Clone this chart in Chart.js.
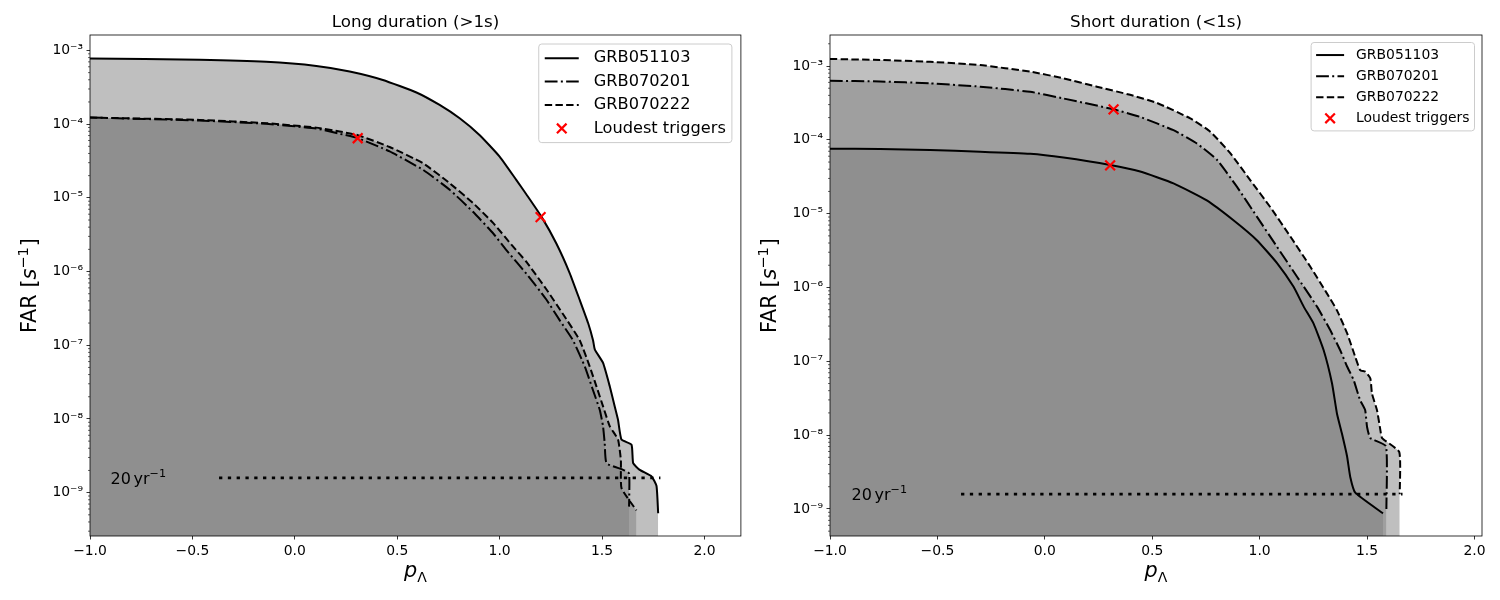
<!DOCTYPE html>
<html>
<head>
<meta charset="utf-8">
<script src="https://cdn.jsdelivr.net/npm/chart.js@4.4.1/dist/chart.umd.min.js"></script>
<style>
  body { margin: 0; background: #fff; }
  #wrap { position: relative; width: 1500px; height: 600px; }
  canvas { position: absolute; top: 0; }
</style>
</head>
<body>
<div id="wrap">
  <canvas id="longChart" width="750" height="600" style="left:0"></canvas>
  <canvas id="shortChart" width="750" height="600" style="left:750px"></canvas>
</div>
<script>
// tick values / labels
const xTicks = [-1.0, -0.5, 0.0, 0.5, 1.0, 1.5, 2.0];
const xTickLabels = ['−1.0', '−0.5', '0.0', '0.5', '1.0', '1.5', '2.0'];
const yTicks = [1e-3, 1e-4, 1e-5, 1e-6, 1e-7, 1e-8, 1e-9];
const yTickLabels = ['10⁻³', '10⁻⁴', '10⁻⁵', '10⁻⁶', '10⁻⁷', '10⁻⁸', '10⁻⁹'];

const grbNames = ['GRB051103', 'GRB070201', 'GRB070222'];
const farThreshold = 1.585e-9; // 1 / (20 yr)

// Long duration (>1s)
const longP051103   = [-1.0, -0.465, -0.139, 0.105, 0.268, 0.43, 0.594, 0.707, 0.805, 0.903, 1.0, 1.082, 1.131, 1.204, 1.277, 1.342, 1.391, 1.432, 1.456, 1.465, 1.505, 1.538, 1.562, 1.578, 1.595, 1.644, 1.652, 1.684, 1.742, 1.766, 1.774];
const longFar051103 = [7.80e-4, 7.45e-4, 7.00e-4, 6.17e-4, 5.19e-4, 3.98e-4, 2.69e-4, 1.82e-4, 1.20e-4, 7.08e-5, 3.63e-5, 1.74e-5, 1.11e-5, 5.56e-6, 2.40e-6, 9.55e-7, 4.12e-7, 2.00e-7, 1.17e-7, 8.71e-8, 5.75e-8, 2.75e-8, 1.48e-8, 9.77e-9, 5.25e-9, 4.47e-9, 2.51e-9, 2.04e-9, 1.66e-9, 1.23e-9, 5.25e-10];
const longP070201   = [-1.0, -0.465, -0.139, 0.105, 0.219, 0.308, 0.463, 0.626, 0.756, 0.870, 0.968, 1.033, 1.131, 1.228, 1.293, 1.358, 1.416, 1.456, 1.489, 1.505, 1.513, 1.522, 1.603, 1.632, 1.632];
const longFar070201 = [1.23e-4, 1.12e-4, 1.01e-4, 8.71e-5, 7.41e-5, 6.46e-5, 4.27e-5, 2.40e-5, 1.29e-5, 6.46e-6, 3.31e-6, 1.95e-6, 9.33e-7, 4.17e-7, 2.19e-7, 1.17e-7, 5.13e-8, 2.45e-8, 1.32e-8, 7.94e-9, 4.68e-9, 2.51e-9, 2.04e-9, 1.82e-9, 6.46e-10];
const longP070222   = [-1.0, -0.465, -0.139, 0.105, 0.219, 0.308, 0.463, 0.626, 0.756, 0.870, 0.968, 1.065, 1.131, 1.228, 1.31, 1.391, 1.44, 1.473, 1.505, 1.538, 1.578, 1.592, 1.595, 1.668];
const longFar070222 = [1.23e-4, 1.14e-4, 1.03e-4, 8.97e-5, 7.94e-5, 7.08e-5, 4.90e-5, 2.95e-5, 1.58e-5, 8.51e-6, 4.57e-6, 2.19e-6, 1.35e-6, 5.75e-7, 2.63e-7, 1.17e-7, 5.13e-8, 2.75e-8, 1.48e-8, 7.94e-9, 5.25e-9, 2.75e-9, 1.15e-9, 5.75e-10];
const longLoudestP   = [0.307, 1.200];
const longLoudestFar = [6.44e-5, 5.46e-6];
const longThresholdP = [-0.37, 1.785];

// Short duration (<1s)
const shortP051103   = [-1.0, -0.767, -0.534, -0.301, -0.068, 0.087, 0.304, 0.444, 0.599, 0.754, 0.878, 0.987, 1.081, 1.158, 1.205, 1.251, 1.298, 1.337, 1.360, 1.383, 1.407, 1.422, 1.445, 1.574];
const shortFar051103 = [7.59e-5, 7.50e-5, 7.28e-5, 6.92e-5, 6.46e-5, 5.75e-5, 4.57e-5, 3.72e-5, 2.57e-5, 1.51e-5, 8.13e-6, 4.37e-6, 2.14e-6, 1.02e-6, 5.50e-7, 3.24e-7, 1.41e-7, 5.01e-8, 1.95e-8, 1.05e-8, 5.13e-9, 2.69e-9, 1.66e-9, 8.71e-10];
const shortP070201   = [-1.0, -0.767, -0.534, -0.301, -0.068, 0.087, 0.320, 0.444, 0.599, 0.708, 0.801, 0.894, 0.987, 1.081, 1.174, 1.267, 1.329, 1.375, 1.407, 1.437, 1.468, 1.491, 1.500, 1.515, 1.588, 1.590];
const shortFar070201 = [6.31e-4, 6.17e-4, 5.82e-4, 5.25e-4, 4.47e-4, 3.63e-4, 2.59e-4, 2.04e-4, 1.35e-4, 8.91e-5, 5.37e-5, 2.32e-5, 9.12e-6, 3.55e-6, 1.40e-6, 5.50e-7, 2.63e-7, 1.41e-7, 8.51e-8, 5.62e-8, 2.95e-8, 2.19e-8, 1.29e-8, 9.12e-9, 7.08e-9, 1.0e-9];
const shortP070222   = [-1.0, -0.767, -0.534, -0.301, -0.068, 0.087, 0.242, 0.397, 0.522, 0.677, 0.770, 0.863, 0.956, 1.049, 1.143, 1.236, 1.313, 1.360, 1.407, 1.445, 1.468, 1.491, 1.515, 1.523, 1.546, 1.562, 1.570, 1.650, 1.652];
const shortFar070222 = [1.245e-3, 1.205e-3, 1.14e-3, 1.03e-3, 8.38e-4, 6.81e-4, 5.25e-4, 4.07e-4, 3.16e-4, 1.95e-4, 1.29e-4, 6.61e-5, 2.85e-5, 1.23e-5, 4.90e-6, 1.91e-6, 8.32e-7, 4.90e-7, 2.40e-7, 1.15e-7, 7.59e-8, 7.24e-8, 5.89e-8, 3.63e-8, 2.19e-8, 1.17e-8, 9.12e-9, 5.89e-9, 1.58e-9];
const shortLoudestP   = [0.304, 0.320];
const shortLoudestFar = [4.51e-5, 2.59e-4];
const shortThresholdP = [-0.39, 1.665];

const FONT = '"DejaVu Sans"';
Chart.defaults.font.family = FONT;
Chart.defaults.color = '#000';

const dashes = [[], [12.8, 3.3, 2, 3.3], [7.4, 3.3]];

function pts(xs, ys) {
  return xs.map((x, i) => ({x: x, y: ys[i]}));
}

function curve(label, xs, ys, dash) {
  return {
    label: label,
    data: pts(xs, ys),
    showLine: true,
    borderColor: '#000',
    borderWidth: 2,
    borderDash: dash,
    borderJoinStyle: 'round',
    pointRadius: 0,
    tension: 0.15,
    fill: 'start',
    backgroundColor: 'rgba(128,128,128,0.5)'
  };
}

function roundRect(ctx, x, y, w, h, r) {
  ctx.beginPath();
  ctx.moveTo(x + r, y);
  ctx.arcTo(x + w, y, x + w, y + h, r);
  ctx.arcTo(x + w, y + h, x, y + h, r);
  ctx.arcTo(x, y + h, x, y, r);
  ctx.arcTo(x, y, x + w, y, r);
  ctx.closePath();
}

function drawRuns(ctx, runs, x, y, align) {
  let total = 0;
  runs.forEach(r => { ctx.font = r.font; r.w = ctx.measureText(r.text).width + (r.dx || 0); total += r.w; });
  let cx = align === 'center' ? x - total / 2 : x;
  runs.forEach(r => {
    ctx.font = r.font;
    ctx.fillText(r.text, cx + (r.dx || 0), y + (r.dy || 0));
    cx += r.w;
  });
}

// frame, minor ticks, titles and annotation text
const decorations = {
  id: 'decorations',
  afterDraw(chart, args, o) {
    const {ctx, chartArea: a, scales} = chart;
    const ys = scales.y;
    ctx.save();
    ctx.strokeStyle = '#000';
    ctx.lineWidth = 0.6;
    ctx.beginPath();
    for (let e = -11; e <= -2; e++) {
      for (let k = 2; k <= 9; k++) {
        const v = k * Math.pow(10, e);
        if (v < ys.min || v > ys.max) continue;
        const py = ys.getPixelForValue(v);
        ctx.moveTo(a.left, py);
        ctx.lineTo(a.left - 2, py);
      }
    }
    ctx.stroke();
    ctx.lineWidth = 0.8;
    ctx.strokeRect(a.left, a.top, a.right - a.left, a.bottom - a.top);

    ctx.fillStyle = '#000';
    ctx.textBaseline = 'alphabetic';
    ctx.textAlign = 'left';
    drawRuns(ctx, [{text: o.title, font: '16.7px ' + FONT}], (a.left + a.right) / 2, a.top - 8.3, 'center');

    drawRuns(ctx, [
      {text: 'p', font: 'italic 20.8px ' + FONT},
      {text: 'Λ', font: '14px ' + FONT, dy: 5}
    ], (a.left + a.right) / 2, a.bottom + 41, 'center');

    ctx.save();
    ctx.translate(a.left - 54.5, (a.top + a.bottom) / 2);
    ctx.rotate(-Math.PI / 2);
    drawRuns(ctx, [
      {text: 'FAR [', font: '20.8px ' + FONT},
      {text: 's', font: 'italic 20.8px ' + FONT},
      {text: '−1', font: '14.6px ' + FONT, dy: -8},
      {text: ']', font: '20.8px ' + FONT, dx: 1}
    ], 0, 0, 'center');
    ctx.restore();

    const tx = scales.x.getPixelForValue(o.noteAt);
    const ty = ys.getPixelForValue(farThreshold) + 5.8;
    drawRuns(ctx, [
      {text: '20', font: '16px ' + FONT},
      {text: 'yr', font: '16px ' + FONT, dx: 2.7},
      {text: '−1', font: '11.2px ' + FONT, dy: -6.5}
    ], tx, ty, 'left');
    ctx.restore();
  }
};

// legend box drawn inside the plot area, upper right
const insideLegend = {
  id: 'insideLegend',
  afterDraw(chart, args, o) {
    const {ctx, chartArea: a} = chart;
    const items = chart.data.datasets.filter(d => d.label);
    ctx.save();
    ctx.font = o.fontSize + 'px ' + FONT;
    const textW = Math.max(...items.map(d => ctx.measureText(d.label).width));
    const w = o.padH + o.handle + o.gap + textW + o.padH;
    const h = 2 * o.padV + items.length * o.row;
    const x0 = a.right - o.margin - w;
    const y0 = a.top + o.margin;
    roundRect(ctx, x0, y0, w, h, 3);
    ctx.fillStyle = 'rgba(255,255,255,0.8)';
    ctx.fill();
    ctx.strokeStyle = '#cccccc';
    ctx.lineWidth = 1;
    ctx.stroke();
    items.forEach((d, i) => {
      const cy = y0 + o.padV + o.row * (i + 0.5);
      const hx = x0 + o.padH;
      ctx.strokeStyle = d.borderColor;
      ctx.lineWidth = d.borderWidth;
      ctx.beginPath();
      if (d.showLine) {
        ctx.setLineDash(d.borderDash || []);
        ctx.moveTo(hx, cy);
        ctx.lineTo(hx + o.handle, cy);
      } else {
        const cx = hx + o.handle / 2, r = o.marker;
        ctx.moveTo(cx - r, cy - r); ctx.lineTo(cx + r, cy + r);
        ctx.moveTo(cx - r, cy + r); ctx.lineTo(cx + r, cy - r);
      }
      ctx.stroke();
      ctx.setLineDash([]);
      ctx.fillStyle = '#000';
      ctx.textBaseline = 'middle';
      ctx.font = o.fontSize + 'px ' + FONT;
      ctx.fillText(d.label, hx + o.handle + o.gap, cy);
    });
    ctx.restore();
  }
};

function makeChart(id, p) {
  const datasets = [
    curve(grbNames[0], p.curves[0][0], p.curves[0][1], dashes[0]),
    curve(grbNames[1], p.curves[1][0], p.curves[1][1], dashes[1]),
    curve(grbNames[2], p.curves[2][0], p.curves[2][1], dashes[2]),
    {
      label: 'Loudest triggers',
      data: pts(p.loudest[0], p.loudest[1]),
      showLine: false,
      order: -1,
      pointStyle: 'crossRot',
      pointRadius: 6.9,
      pointBorderWidth: 2.2,
      pointBorderColor: '#ff0000',
      pointBackgroundColor: '#ff0000',
      borderColor: '#ff0000',
      borderWidth: 2.2
    },
    {
      data: pts(p.threshold, p.threshold.map(() => farThreshold)),
      showLine: true,
      borderColor: '#000',
      borderWidth: 2.8,
      borderDash: [3.3, 5.5],
      pointRadius: 0,
      fill: false
    }
  ];

  return new Chart(document.getElementById(id), {
    type: 'scatter',
    data: {datasets: datasets},
    plugins: [decorations, insideLegend],
    options: {
      responsive: false,
      animation: false,
      events: [],
      layout: {padding: {top: 35, right: p.padRight, bottom: 0, left: 0}},
      plugins: {
        legend: {display: false},
        tooltip: {enabled: false},
        filler: {drawTime: 'beforeDatasetsDraw'},
        decorations: {title: p.title, noteAt: -0.9},
        insideLegend: p.legend
      },
      scales: {
        x: {
          type: 'linear',
          min: -1,
          max: p.xMax,
          bounds: 'data',
          afterBuildTicks: s => { s.ticks = xTicks.map(v => ({value: v})); },
          afterFit: s => { s.height = 64; },
          border: {display: false},
          grid: {display: true, drawOnChartArea: false, drawTicks: true, tickLength: 3.5, tickColor: '#000', tickWidth: 0.8},
          ticks: {
            color: '#000', font: {size: 13.9}, padding: 3.5, maxRotation: 0, autoSkip: false,
            callback: (v, i) => xTickLabels[i]
          }
        },
        y: {
          type: 'logarithmic',
          min: p.yMin,
          max: p.yMax,
          bounds: 'data',
          afterBuildTicks: s => { s.ticks = yTicks.map(v => ({value: v})); },
          afterFit: s => { s.width = p.yWidth; },
          border: {display: false},
          grid: {display: true, drawOnChartArea: false, drawTicks: true, tickLength: 3.5, tickColor: '#000', tickWidth: 0.8},
          ticks: {
            color: '#000', font: {size: 13.9}, padding: 3.5, autoSkip: false,
            callback: (v, i) => yTickLabels[i]
          }
        }
      }
    }
  });
}

makeChart('longChart', {
  title: 'Long duration (>1s)',
  curves: [[longP051103, longFar051103], [longP070201, longFar070201], [longP070222, longFar070222]],
  loudest: [longLoudestP, longLoudestFar],
  threshold: longThresholdP,
  xMax: 2.178, yMin: 2.58e-10, yMax: 1.62e-3,
  yWidth: 90, padRight: 9,
  legend: {fontSize: 16.2, row: 23.4, padV: 2.5, padH: 6, handle: 34, gap: 15, margin: 9, marker: 4.8}
});

makeChart('shortChart', {
  title: 'Short duration (<1s)',
  curves: [[shortP051103, shortFar051103], [shortP070201, shortFar070201], [shortP070222, shortFar070222]],
  loudest: [shortLoudestP, shortLoudestFar],
  threshold: shortThresholdP,
  xMax: 2.035, yMin: 4.3e-10, yMax: 2.63e-3,
  yWidth: 80, padRight: 18,
  legend: {fontSize: 13.9, row: 21.1, padV: 2, padH: 5, handle: 28, gap: 12, margin: 7.5, marker: 4.8}
});
</script>
</body>
</html>
